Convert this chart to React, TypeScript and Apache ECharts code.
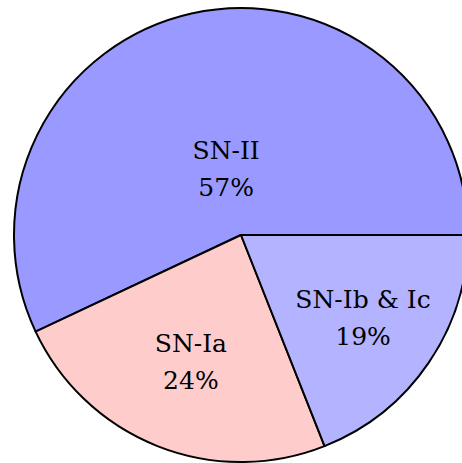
import React, { useEffect, useRef } from "react";
import * as echarts from "echarts";

const categories = ["SN-II", "SN-Ia", "SN-Ib & Ic"];
const values = [57, 24, 19];
const colors = ["#9999ff", "#ffcccc", "#b3b3ff"];
const labelRadiusFrac = [0.3, 0.6, 0.65];

export default function App() {
  const ref = useRef<HTMLDivElement>(null);
  useEffect(() => {
    document.body.style.margin = "0";
    const chart = echarts.init(ref.current!, null, { renderer: "svg" });
    const cx = 241, cy = 235, R = 227;
    const total = values.reduce((a, b) => a + b, 0);
    const mids: number[] = [];
    let acc = 0;
    values.forEach((v) => {
      mids.push(((acc + v / 2) / total) * 2 * Math.PI);
      acc += v;
    });
    chart.setOption({
      animation: false,
      series: [
        {
          type: "pie",
          center: [cx, cy],
          radius: R,
          startAngle: 0,
          clockwise: false,
          data: categories.map((c, i) => ({
            name: c,
            value: values[i],
            itemStyle: { color: colors[i] },
          })),
          itemStyle: { borderColor: "#000", borderWidth: 2 },
          label: {
            show: true,
            position: "inside",
            formatter: (p: any) => `${p.name}\n${p.value}%`,
            fontFamily: "DejaVu Serif",
            fontSize: 25,
            lineHeight: 37,
            color: "#000",
            align: "center",
          },
          labelLine: { show: false },
          labelLayout: (p: any) => {
            const a = mids[p.dataIndex];
            const r = R * labelRadiusFrac[p.dataIndex];
            return { x: cx + r * Math.cos(a), y: cy - r * Math.sin(a) };
          },
          emphasis: { disabled: true },
        },
      ],
    });
    return () => chart.dispose();
  }, []);
  return <div ref={ref} style={{ width: 462, height: 463 }} />;
}
